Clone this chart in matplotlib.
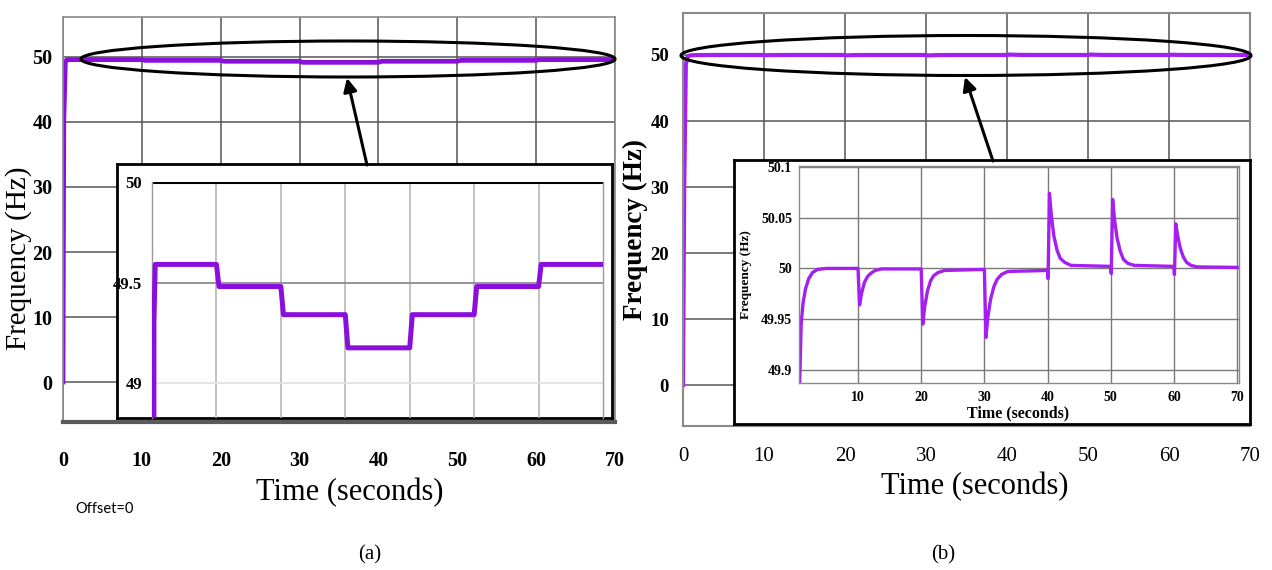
import matplotlib
matplotlib.use("Agg")
import matplotlib.pyplot as plt
from matplotlib.patches import Ellipse, FancyArrowPatch

W, H = 1272, 570

# ---------------- data ----------------
main_xticks = [0, 10, 20, 30, 40, 50, 60, 70]
main_yticks = [0, 10, 20, 30, 40, 50]

# (a) frequency with steps
t_a = [0.0, 0.1, 0.3, 0.5, 10.0, 10.4, 20.0, 20.4, 30.0, 30.4, 40.0, 40.4,
       50.0, 50.4, 60.0, 60.4, 70.0]
f_a = [0.0, 40.0, 49.3, 49.59, 49.59, 49.48, 49.48, 49.34, 49.34, 49.175,
       49.175, 49.34, 49.34, 49.48, 49.48, 49.59, 49.59]
inset_a_xgrid = [10, 20, 30, 40, 50, 60]
inset_a_yticks = [49.0, 49.5, 50.0]
inset_a_ylabels = ["49", "49.5", "50"]

# (b) frequency with transients
t_b = [0.0, 0.15, 0.35, 0.55, 0.77, 1.0, 1.3, 1.7, 2.2, 2.8, 3.6, 5.0,
       10.0, 10.25, 10.55, 11.0, 11.5, 12.0, 12.7, 13.7,
       20.0, 20.25, 20.55, 21.0, 21.5, 22.0, 22.7, 23.7,
       30.0, 30.25, 30.55, 31.0, 31.5, 32.0, 32.7, 33.7,
       40.0, 40.08, 40.3, 40.6, 41.0, 41.5, 42.0, 42.7, 43.7,
       50.0, 50.08, 50.3, 50.6, 51.0, 51.5, 52.0, 52.7, 53.7,
       60.0, 60.08, 60.3, 60.6, 61.0, 61.5, 62.0, 62.7, 63.7, 70.0]
f_b = [0.0, 30.0, 48.5, 49.7, 49.887, 49.945, 49.966, 49.980, 49.990, 49.996, 49.999, 50.0,
       50.0, 49.964, 49.975, 49.986, 49.992, 49.995, 49.998, 49.9995,
       49.9995, 49.945, 49.962, 49.978, 49.988, 49.993, 49.996, 49.998,
       49.999, 49.932, 49.952, 49.970, 49.982, 49.989, 49.994, 49.997,
       49.998, 49.990, 50.074, 50.052, 50.032, 50.018, 50.010, 50.006, 50.003,
       50.002, 49.995, 50.068, 50.048, 50.030, 50.017, 50.009, 50.005, 50.003,
       50.002, 49.994, 50.044, 50.032, 50.020, 50.011, 50.006, 50.003, 50.0015, 50.001]
inset_b_xticks = [10, 20, 30, 40, 50, 60, 70]
inset_b_yticks = [49.9, 49.95, 50.0, 50.05, 50.1]
inset_b_ylabels = ["49.9", "49.95", "50", "50.05", "50.1"]

# ---------------- helpers ----------------
def rect(x0, y0, x1, y1):
    return [x0 / W, 1 - y1 / H, (x1 - x0) / W, (y1 - y0) / H]

def fp(x, y):
    return (x / W, 1 - y / H)

SERIF = "Liberation Serif"
plt.rcParams["font.family"] = SERIF
COL_A = "#8A0FDC"
COL_B = "#A51FF0"

fig = plt.figure(figsize=(W / 100, H / 100), dpi=100)
fig.patch.set_facecolor("white")

# ---------------- panel (a) main ----------------
axa = fig.add_axes(rect(63, 17, 615, 422), zorder=1)
axa.plot(t_a, f_a, color=COL_A, lw=3.4, solid_joinstyle="round")
axa.set_xlim(0, 70)
axa.set_ylim(-6.15, 56.15)
axa.set_xticks(main_xticks)
axa.set_yticks(main_yticks)
axa.grid(True, color="#555555", lw=1.1)
axa.set_axisbelow(True)
for s in axa.spines.values():
    s.set_color("#8a8a8a"); s.set_linewidth(1.2)
axa.spines["bottom"].set_color("#5a5a5a"); axa.spines["bottom"].set_linewidth(3)
axa.tick_params(axis="both", length=0, labelsize=14.5)
axa.tick_params(axis="x", pad=21)
axa.tick_params(axis="y", pad=7.5)
for lab in axa.get_xticklabels() + axa.get_yticklabels():
    lab.set_fontweight("bold")

fig.text(19 / W, 1 - 258 / H, "Frequency (Hz)", rotation=90, ha="center", va="center",
         fontsize=21, family=SERIF)
fig.text(350 / W, 1 - 493 / H, "Time (seconds)", ha="center", va="center",
         fontsize=22, family=SERIF)
fig.text(105 / W, 1 - 509 / H, "Offset=0", ha="center", va="center",
         fontsize=10.5, family="Lato")
fig.text(370 / W, 1 - 555 / H, "(a)", ha="center", va="center", fontsize=15, family=SERIF)

# inset (a)
boxa = fig.add_axes(rect(117, 164, 612, 418), zorder=2)
boxa.set_xticks([]); boxa.set_yticks([])
for s in boxa.spines.values():
    s.set_color("black"); s.set_linewidth(2)

ina = fig.add_axes(rect(152, 182, 603, 418), zorder=3)
ina.patch.set_alpha(0)
ina.set_xlim(0, 70)
ina.set_ylim(48.826, 50.0)
for xv in inset_a_xgrid:
    ina.axvline(xv, color="#b0b0b0", lw=1.1, zorder=0)
for yv, c in zip(inset_a_yticks, ["#e2e2e2", "#8c8c8c", "black"]):
    ina.axhline(yv, color=c, lw=1.3 if yv != 50.0 else 2.2, zorder=0)
ina.plot(t_a, f_a, color=COL_A, lw=3.6, zorder=3)
ina.set_xticks([])
ina.set_yticks(inset_a_yticks)
ina.set_yticklabels(inset_a_ylabels, fontsize=12, fontweight="bold")
ina.tick_params(axis="y", length=0, pad=7)
ina.spines["top"].set_visible(False)
ina.spines["bottom"].set_visible(False)
ina.spines["left"].set_color("#9a9a9a"); ina.spines["left"].set_linewidth(1)
ina.spines["right"].set_color("#9a9a9a"); ina.spines["right"].set_linewidth(1)

# ---------------- panel (b) main ----------------
axb = fig.add_axes(rect(683, 13, 1250, 426), zorder=1)
axb.plot(t_b, f_b, color=COL_B, lw=3.0)
axb.set_xlim(0, 70)
axb.set_ylim(-6.2, 56.36)
axb.set_xticks(main_xticks)
axb.set_yticks(main_yticks)
axb.grid(True, color="#555555", lw=1.1)
axb.set_axisbelow(True)
for s in axb.spines.values():
    s.set_color("#8a8a8a"); s.set_linewidth(1.5)
axb.tick_params(axis="x", length=0, labelsize=15, pad=15)
axb.tick_params(axis="y", length=0, labelsize=13.5, pad=10)
for lab in axb.get_yticklabels():
    lab.set_fontweight("bold")

fig.text(635 / W, 1 - 230 / H, "Frequency (Hz)", rotation=90, ha="center", va="center",
         fontsize=19.5, fontweight="bold", family=SERIF)
fig.text(975 / W, 1 - 487 / H, "Time (seconds)", ha="center", va="center",
         fontsize=22, family=SERIF)
fig.text(943 / W, 1 - 555 / H, "(b)", ha="center", va="center", fontsize=15, family=SERIF)

# inset (b)
boxb = fig.add_axes(rect(734, 160, 1250, 424), zorder=2)
boxb.set_xticks([]); boxb.set_yticks([])
for s in boxb.spines.values():
    s.set_color("black"); s.set_linewidth(2)

inb = fig.add_axes(rect(799, 166, 1239, 383), zorder=3)
inb.patch.set_alpha(0)
inb.plot(t_b, f_b, color=COL_B, lw=2.4)
inb.set_xlim(0.66, 70.3)
inb.set_ylim(49.887, 50.101)
inb.set_xticks(inset_b_xticks)
inb.set_yticks(inset_b_yticks)
inb.set_yticklabels(inset_b_ylabels)
inb.grid(True, color="#7a7a7a", lw=1.0)
inb.set_axisbelow(True)
for s in inb.spines.values():
    s.set_color("#8a8a8a"); s.set_linewidth(1)
inb.tick_params(axis="both", length=0, labelsize=10)
inb.tick_params(axis="x", pad=6)
inb.tick_params(axis="y", pad=5)
for lab in inb.get_xticklabels() + inb.get_yticklabels():
    lab.set_fontweight("bold")
fig.text(1018 / W, 1 - 413 / H, "Time (seconds)", ha="center", va="center",
         fontsize=11.5, fontweight="bold", family=SERIF)
fig.text(746 / W, 1 - 275 / H, "Frequency (Hz)", rotation=90, ha="center", va="center",
         fontsize=9.5, fontweight="bold", family=SERIF)

# ---------------- ellipses and arrows ----------------
ea = Ellipse(fp(348, 59), 534 / W, 36 / H, transform=fig.transFigure,
             fill=False, ec="black", lw=2.2, zorder=10)
eb = Ellipse(fp(966, 55.5), 570 / W, 40 / H, transform=fig.transFigure,
             fill=False, ec="black", lw=2.2, zorder=10)
fig.add_artist(ea)
fig.add_artist(eb)
for tail, head in [((367, 165), (347, 78)), ((993, 161), (965, 77))]:
    arr = FancyArrowPatch(fp(*tail), fp(*head), transform=fig.transFigure,
                          arrowstyle="-|>", mutation_scale=20, lw=2.2,
                          color="black", zorder=10, shrinkA=0, shrinkB=0)
    fig.add_artist(arr)

fig.savefig("out.png", dpi=100)
